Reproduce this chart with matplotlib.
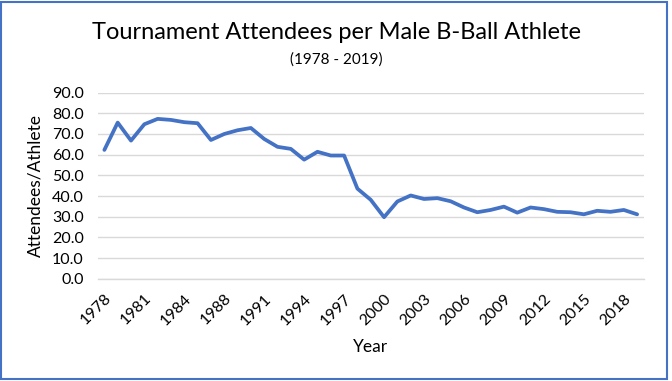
import matplotlib
matplotlib.use("Agg")
import matplotlib.pyplot as plt
from matplotlib.patches import Rectangle

years = [1978, 1979, 1980, 1981, 1982, 1983, 1984, 1985, 1987, 1988,
         1989, 1990, 1991, 1992, 1993, 1994, 1995, 1996, 1997, 1998,
         1999, 2000, 2001, 2002, 2003, 2004, 2005, 2006, 2007, 2008,
         2009, 2010, 2011, 2012, 2013, 2014, 2015, 2016, 2017, 2018, 2019]
ratio = [62.3, 75.5, 66.8, 74.7, 77.3, 76.8, 75.7, 75.2, 67.1, 70.0,
         71.8, 72.9, 67.6, 63.8, 62.8, 57.6, 61.4, 59.6, 59.6, 43.6,
         38.2, 29.8, 37.4, 40.3, 38.6, 39.0, 37.5, 34.5, 32.2, 33.3,
         34.9, 32.0, 34.5, 33.7, 32.4, 32.2, 31.2, 32.9, 32.4, 33.3, 31.2]

plt.rcParams['font.family'] = ['Lato', 'DejaVu Sans']

fig = plt.figure(figsize=(6.72, 3.81), dpi=100)
ax = fig.add_axes([0.1454, 0.268, 0.8126, 0.489])

x = list(range(len(years)))
ax.plot(x, ratio, color='#4472C4', linewidth=2.7, solid_joinstyle='round',
        solid_capstyle='round')

ax.set_xlim(-0.5, len(years) - 0.5)
ax.set_ylim(0, 90)
ax.set_yticks(range(0, 91, 10))
ax.set_yticklabels([f"{v:.1f}" for v in range(0, 91, 10)], fontsize=11.5)
ticks = x[::3]
ax.set_xticks(ticks)
ax.set_xticklabels([str(years[i]) for i in ticks], rotation=45, ha='right',
                   rotation_mode='anchor', fontsize=11.5)
ax.tick_params(axis='y', length=0, pad=10)
ax.tick_params(axis='x', length=0, pad=9)
ax.grid(axis='y', color='#D9D9D9', linewidth=1)
ax.set_axisbelow(True)
for s in ['top', 'right', 'left']:
    ax.spines[s].set_visible(False)
ax.spines['bottom'].set_color('#D9D9D9')
ax.spines['bottom'].set_linewidth(1)

ax.set_ylabel("Attendees/Athlete", fontsize=12.5, labelpad=6)
ax.set_xlabel("Year", fontsize=12.5, labelpad=8)

fig.text(0.5, 0.915, "Tournament Attendees per Male B-Ball Athlete",
         ha='center', va='center', fontsize=17)
fig.text(0.5, 0.845, "(1978 - 2019)", ha='center', va='center', fontsize=11)

fig.patches.append(Rectangle((0.002, 0.004), 0.991, 0.992, transform=fig.transFigure,
                             fill=False, edgecolor='#4472C4', linewidth=1.5))

fig.savefig("out.png", dpi=100)
